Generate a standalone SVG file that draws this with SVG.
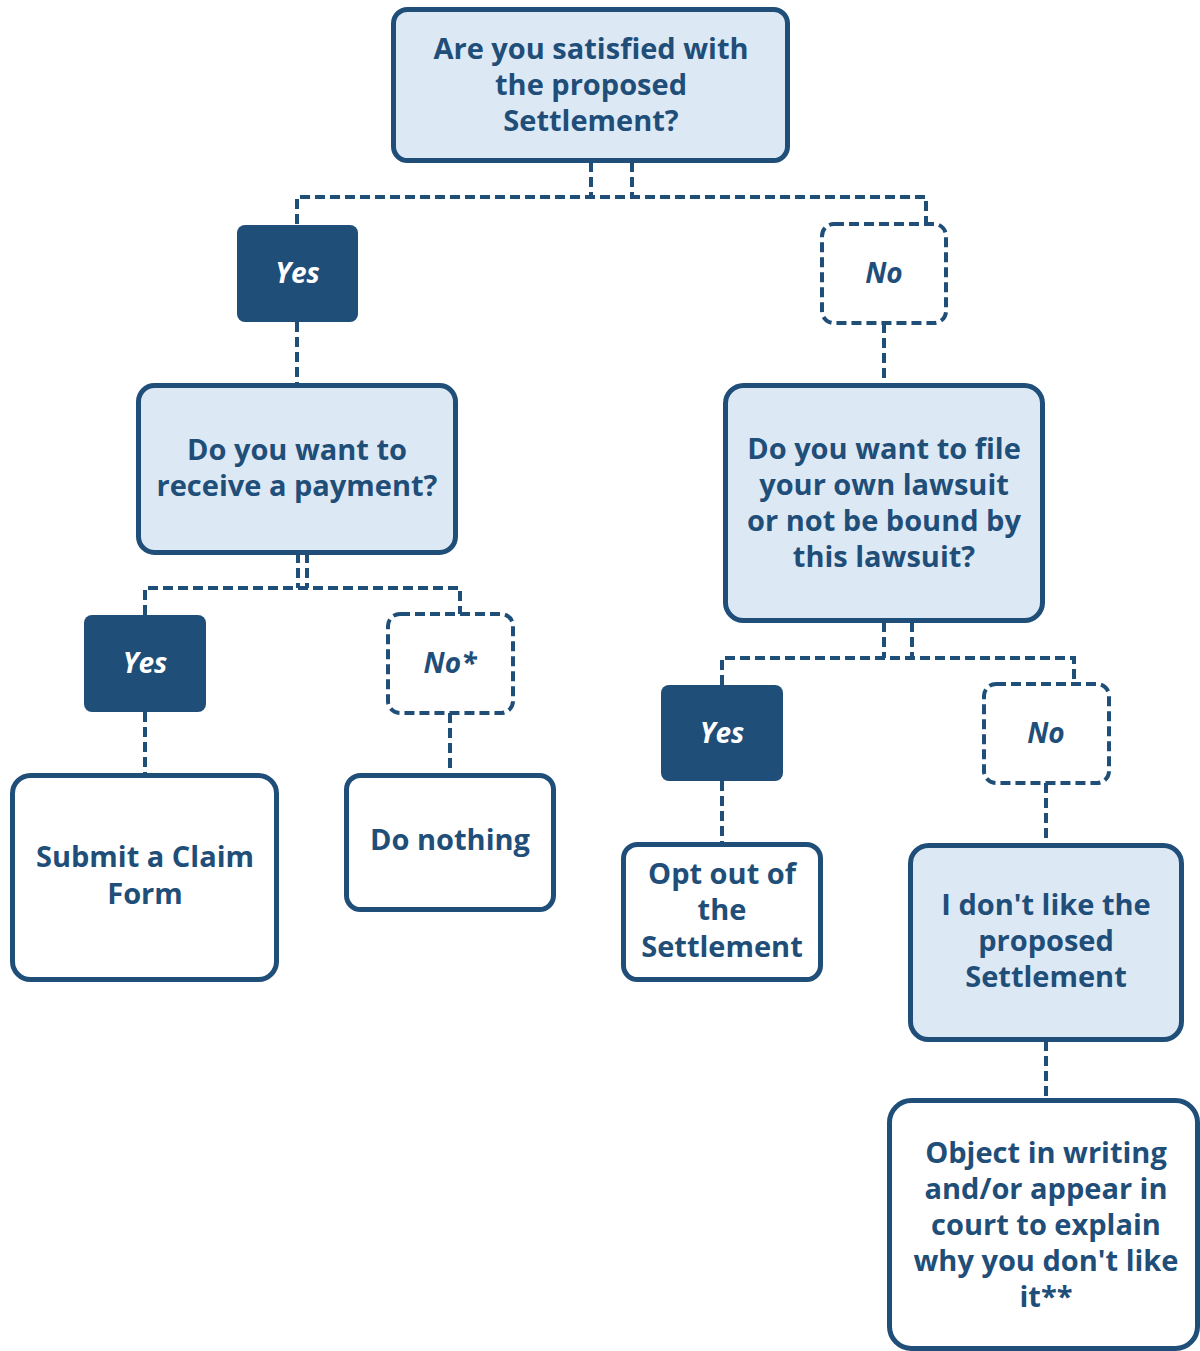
<svg xmlns="http://www.w3.org/2000/svg" width="1200" height="1351" viewBox="0 0 1200 1351">
<style>
.q{fill:#dde8f5;stroke:#1f4e79;stroke-width:5}
.a{fill:#ffffff;stroke:#1f4e79;stroke-width:5}
.y{fill:#1f4e79;stroke:none}
.n{fill:#ffffff;stroke:#1f4e79;stroke-width:4;stroke-dasharray:10 5}
.t{font-family:"Open Sans","Liberation Sans",sans-serif;font-weight:700;font-size:29px;fill:#1f4e79;text-anchor:middle}
.l{font-family:"Open Sans","Liberation Sans",sans-serif;font-weight:700;font-style:italic;font-size:28px;text-anchor:middle}
.lw{fill:#ffffff}
.ld{fill:#1f4e79}
.c{fill:none;stroke:#1f4e79;stroke-width:4;stroke-dasharray:10 5}
</style>
<rect width="1200" height="1351" fill="#ffffff"/>
<g id="connectors">
<path class="c" d="M591,162 V197 M632,162 V197 M297,224 V197 H926 V224"/>
<path class="c" d="M297,322 V385 M884,323 V385"/>
<path class="c" d="M298,553 V588 M307,553 V588 M145,615 V588 H460 V614"/>
<path class="c" d="M884,622 V658 M912,622 V658 M722,685 V658 H1074 V684"/>
<path class="c" d="M145,712 V775 M450,713 V775 M722,781 V844 M1046,783 V845 M1046,1041 V1100"/>
</g>
<g id="q1">
<rect class="q" x="393.5" y="9.5" width="394" height="151" rx="14"/>
<text class="t" x="591" y="59">Are you satisfied with</text>
<text class="t" x="591" y="95">the proposed</text>
<text class="t" x="591" y="131">Settlement?</text>
</g>
<g id="yes1">
<rect class="y" x="237" y="225" width="121" height="97" rx="8"/>
<text class="l lw" x="297.5" y="283">Yes</text>
</g>
<g id="no1">
<rect class="n" x="822" y="224" width="124" height="99" rx="12"/>
<text class="l ld" x="884" y="283">No</text>
</g>
<g id="q2">
<rect class="q" x="138.5" y="385.5" width="317" height="167" rx="16"/>
<text class="t" x="297" y="460">Do you want to</text>
<text class="t" x="297" y="496">receive a payment?</text>
</g>
<g id="q3">
<rect class="q" x="725.5" y="385.5" width="317" height="235" rx="18"/>
<text class="t" x="884" y="459">Do you want to file</text>
<text class="t" x="884" y="495">your own lawsuit</text>
<text class="t" x="884" y="531">or not be bound by</text>
<text class="t" x="884" y="567">this lawsuit?</text>
</g>
<g id="yes2">
<rect class="y" x="84" y="615" width="122" height="97" rx="8"/>
<text class="l lw" x="145" y="673">Yes</text>
</g>
<g id="no2">
<rect class="n" x="388" y="614" width="125" height="99" rx="12"/>
<text class="l ld" x="450" y="673">No*</text>
</g>
<g id="yes3">
<rect class="y" x="661" y="685" width="122" height="96" rx="8"/>
<text class="l lw" x="722" y="743">Yes</text>
</g>
<g id="no3">
<rect class="n" x="984" y="684" width="125" height="99" rx="12"/>
<text class="l ld" x="1046" y="743">No</text>
</g>
<g id="submit">
<rect class="a" x="12.5" y="775.5" width="264" height="204" rx="18"/>
<text class="t" x="145" y="867">Submit a Claim</text>
<text class="t" x="145" y="904">Form</text>
</g>
<g id="nothing">
<rect class="a" x="346.5" y="775.5" width="207" height="134" rx="14"/>
<text class="t" x="450" y="850">Do nothing</text>
</g>
<g id="optout">
<rect class="a" x="623.5" y="844.5" width="197" height="135" rx="14"/>
<text class="t" x="722" y="884">Opt out of</text>
<text class="t" x="722" y="920">the</text>
<text class="t" x="722" y="957">Settlement</text>
</g>
<g id="dislike">
<rect class="q" x="910.5" y="845.5" width="271" height="194" rx="18"/>
<text class="t" x="1046" y="915">I don't like the</text>
<text class="t" x="1046" y="951">proposed</text>
<text class="t" x="1046" y="987">Settlement</text>
</g>
<g id="object">
<rect class="a" x="889.5" y="1100.5" width="308" height="248" rx="22"/>
<text class="t" x="1046" y="1163">Object in writing</text>
<text class="t" x="1046" y="1199">and/or appear in</text>
<text class="t" x="1046" y="1235">court to explain</text>
<text class="t" x="1046" y="1271">why you don't like</text>
<text class="t" x="1046" y="1307">it**</text>
</g>
</svg>
